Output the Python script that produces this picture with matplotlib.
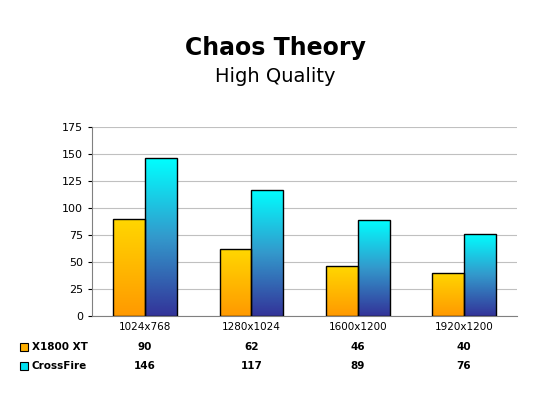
import matplotlib
matplotlib.use("Agg")
import matplotlib.pyplot as plt
import numpy as np
from matplotlib.colors import LinearSegmentedColormap

categories = ["1024x768", "1280x1024", "1600x1200", "1920x1200"]
x1800 = [90, 62, 46, 40]
crossfire = [146, 117, 89, 76]
series_names = ["X1800 XT", "CrossFire"]
yticks = [0, 25, 50, 75, 100, 125, 150, 175]

fig = plt.figure(figsize=(5.5, 4.13), dpi=100)
fig.patch.set_facecolor("white")
W, H = 550, 413
ax = fig.add_axes([92/W, 1-316/H, (517-92)/W, (316-127)/H])
ax.set_xlim(0, 4)
ax.set_ylim(0, 175)
ax.set_yticks(yticks)
ax.yaxis.grid(True, color="#c0c0c0", lw=0.8)
ax.set_axisbelow(True)
ax.set_xticks([])
for s in ["top", "right"]:
    ax.spines[s].set_visible(False)
ax.spines["left"].set_color("#808080")
ax.spines["bottom"].set_color("#808080")
ax.tick_params(axis="y", labelsize=8, length=3, colors="black")

cm1 = LinearSegmentedColormap.from_list("o", ["#ff9900", "#ffd700"])
cm2 = LinearSegmentedColormap.from_list("c", ["#333399", "#3399cc", "#00ffff"])
grad = np.linspace(0, 1, 256).reshape(-1, 1)
bw = 0.3
for i in range(len(categories)):
    for val, off, cm in [(x1800[i], -bw, cm1), (crossfire[i], 0, cm2)]:
        x0 = i + 0.5 + off
        im = ax.imshow(grad, cmap=cm, extent=[x0, x0+bw, 0, val], origin="lower",
                       aspect="auto", zorder=2)
        r = plt.Rectangle((x0, 0), bw, val, fill=False, ec="black", lw=1, zorder=3)
        ax.add_patch(r)
        im.set_clip_path(r)
ax.set_xlim(0, 4)
ax.set_ylim(0, 175)

fig.text(0.5, 1-48/H, "Chaos Theory", ha="center", va="center", fontsize=17, fontweight="bold")
fig.text(0.5, 1-76/H, "High Quality", ha="center", va="center", fontsize=14)

for i, c in enumerate(categories):
    xf = (92 + (i+0.5)/4*(517-92))/W
    fig.text(xf, 1-327/H, c, ha="center", va="center", fontsize=7.5)
    fig.text(xf, 1-347/H, str(x1800[i]), ha="center", va="center", fontsize=7.5, fontweight="bold")
    fig.text(xf, 1-366/H, str(crossfire[i]), ha="center", va="center", fontsize=7.5, fontweight="bold")
for yy, name, col in [(347, series_names[0], "#ffb000"), (366, series_names[1], "#00e0f0")]:
    fig.patches.append(plt.Rectangle((20/W, 1-(yy+4)/H), 8/W, 8/H, transform=fig.transFigure,
                                     fc=col, ec="black", lw=0.8))
    fig.text(32/W, 1-yy/H, name, ha="left", va="center", fontsize=7.5, fontweight="bold")

fig.savefig("out.png", dpi=100)
